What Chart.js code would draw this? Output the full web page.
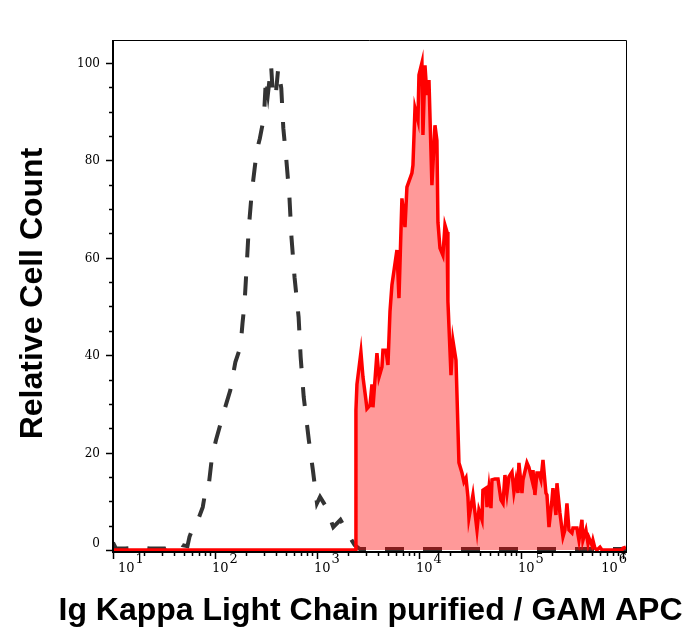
<!DOCTYPE html>
<html>
<head>
<meta charset="utf-8">
<script src="https://cdn.jsdelivr.net/npm/chart.js@4/dist/chart.umd.min.js"></script>
<style>
  body { margin: 0; background: #fff; }
  #histo { display: block; }
</style>
</head>
<body>
<canvas id="histo" width="695" height="641"></canvas>
<script>
// x positions are kept in decades (log10 of the fluorescence value)
const isotypeLog = [1.00, 1.03, 1.12, 1.26, 1.36, 1.51, 1.58, 1.63, 1.68, 1.73,
    1.75, 1.80, 1.83, 1.88, 1.90, 1.93, 1.97, 2.01, 2.05, 2.10,
    2.15, 2.20, 2.25, 2.27, 2.29, 2.31, 2.33, 2.36, 2.41, 2.44,
    2.48, 2.50, 2.52, 2.55, 2.57, 2.60, 2.62, 2.65, 2.67, 2.70,
    2.73, 2.75, 2.78, 2.82, 2.84, 2.87, 2.92, 2.96, 3.00, 3.03,
    3.08, 3.10, 3.16, 3.23, 3.27, 3.32, 3.37, 3.42, 6.03];
const isotypeCount = [1.5, 0.3, 0.3, 0.6, 0.3, 0.3, 1.0, 1.8, 1.0, 0.8,
    2.7, 5.5, 6.0, 8.8, 11.3, 11.7, 19, 22.6, 25.6, 29.3,
    32.8, 38.6, 41.7, 46.6, 50.7, 58, 65.7, 73.3, 82, 84.5,
    88.9, 97, 93.8, 99.5, 92.8, 94.4, 98.9, 94.8, 86.6, 80,
    72.4, 64.2, 56, 47.8, 39.6, 31.4, 22.6, 16.4, 9.6, 10.9,
    9.2, 8.2, 4.7, 6.2, 4.7, 2.7, 1, 0.2, 0.2];

const stainedLog = [1.000, 3.373, 3.382, 3.392, 3.431, 3.451, 3.480, 3.490, 3.520, 3.539,
    3.549, 3.588, 3.608, 3.637, 3.647, 3.676, 3.696, 3.716, 3.735, 3.784,
    3.804, 3.833, 3.863, 3.882, 3.931, 3.941, 3.961, 3.990, 4.000, 4.029,
    4.039, 4.059, 4.078, 4.098, 4.127, 4.157, 4.176, 4.186, 4.206, 4.235,
    4.255, 4.275, 4.284, 4.314, 4.333, 4.363, 4.392, 4.422, 4.441, 4.461,
    4.480, 4.490, 4.529, 4.569, 4.588, 4.618, 4.627, 4.657, 4.667, 4.686,
    4.706, 4.716, 4.745, 4.775, 4.804, 4.824, 4.843, 4.863, 4.882, 4.912,
    4.931, 4.951, 4.971, 4.980, 5.010, 5.020, 5.059, 5.078, 5.108, 5.118,
    5.137, 5.157, 5.176, 5.196, 5.216, 5.245, 5.255, 5.275, 5.304, 5.314,
    5.343, 5.353, 5.382, 5.412, 5.431, 5.451, 5.471, 5.500, 5.510, 5.549,
    5.569, 5.598, 5.608, 5.637, 5.657, 5.667, 5.696, 5.706, 5.725, 5.745,
    5.775, 5.794, 5.990, 6.000, 6.029];
const stainedCount = [0, 0, 28.7, 34, 40.6, 35.5, 30.8, 29, 29.7, 34,
    29.3, 40.4, 35.5, 37.6, 41, 41, 38, 49, 54.4, 61.6,
    51.7, 72.2, 66.3, 74.5, 77.4, 79, 90.7, 88.2, 97.5, 100,
    85.2, 99.5, 93.4, 96.5, 74.9, 87.2, 84.1, 67.3, 62, 60.5,
    66.7, 65.3, 51, 35.9, 43, 39, 17.9, 15.8, 14, 14.8,
    10.9, 6.6, 11.3, 4.1, 8.2, 6.2, 12.3, 12.7, 8.8, 12.7,
    8.6, 14.4, 14.6, 14.6, 10.3, 9.6, 15.4, 11.7, 15, 16,
    11.9, 14.4, 11.7, 17.9, 11.7, 14.4, 17.9, 17, 14.4, 16.4,
    11.3, 15.8, 15.8, 14.4, 18.5, 11.7, 11.3, 4.7, 10.3, 12.7,
    7.2, 13.7, 7.6, 2.7, 4.1, 9.6, 4.1, 3.5, 4.5, 4.5,
    2, 6.2, 2, 4.1, 1.4, 2.5, 1, 2, 0.4, 0,
    0.6, 0, 0, 0.4, 0.6];

const xDecades = [1, 2, 3, 4, 5, 6];
const yTicks = [0, 20, 40, 60, 80, 100];
const xTitle = 'Ig Kappa Light Chain purified / GAM APC';
const yTitle = 'Relative Cell Count';

function toPoints(logs, counts) {
    return logs.map((e, i) => ({ x: Math.pow(10, e), y: counts[i] }));
}

// axes, ticks, labels and titles drawn by hand so the look matches the cytometry software
const axesPlugin = {
    id: 'axesPlugin',
    afterDraw(chart) {
        const ctx = chart.ctx;
        const a = chart.chartArea;
        const xs = chart.scales.x;
        const ys = chart.scales.y;
        ctx.save();
        ctx.strokeStyle = '#000';
        ctx.fillStyle = '#000';

        // frame: heavier left/bottom, thin top/right
        ctx.lineWidth = 1;
        ctx.beginPath();
        ctx.moveTo(a.left, a.top + 0.5); ctx.lineTo(a.right + 0.5, a.top + 0.5);
        ctx.lineTo(a.right + 0.5, a.bottom);
        ctx.stroke();
        ctx.lineWidth = 2;
        ctx.beginPath();
        ctx.moveTo(a.left, a.top); ctx.lineTo(a.left, a.bottom + 1);
        ctx.lineTo(a.right + 1, a.bottom + 1);
        ctx.stroke();

        // y ticks
        ctx.lineWidth = 1.5;
        for (let v = 0; v <= 100; v += 5) {
            const y = Math.round(ys.getPixelForValue(v)) + 0.5;
            const len = v % 20 === 0 ? 7 : 4;
            ctx.beginPath();
            ctx.moveTo(a.left - len, y); ctx.lineTo(a.left, y);
            ctx.stroke();
        }
        ctx.font = '12px "DejaVu Serif"';
        ctx.textAlign = 'right';
        yTicks.forEach(v => {
            const y = ys.getPixelForValue(v);
            if (v === 0) {
                ctx.textBaseline = 'bottom';
                ctx.fillText(String(v), a.left - 13, y);
            } else {
                ctx.textBaseline = 'middle';
                ctx.fillText(String(v), a.left - 13, y + 1);
            }
        });

        // x ticks (log decades with minor ticks)
        const xmax = xs.max;
        for (let d = 1; d <= 6; d++) {
            for (let k = 1; k <= 9; k++) {
                const v = k * Math.pow(10, d);
                if (v > xmax) break;
                const x = Math.round(xs.getPixelForValue(v)) + 0.5;
                const len = k === 1 ? 7 : 4;
                ctx.beginPath();
                ctx.moveTo(x, a.bottom); ctx.lineTo(x, a.bottom + 1 + len);
                ctx.stroke();
            }
        }
        ctx.textAlign = 'left';
        ctx.textBaseline = 'alphabetic';
        xDecades.forEach(d => {
            const x = xs.getPixelForValue(Math.pow(10, d));
            ctx.font = '13px "DejaVu Serif"';
            const wBase = ctx.measureText('10').width;
            const wSup = ctx.measureText(String(d)).width;
            let left = x - 3;
            if (left < a.left + 5) left = a.left + 5;
            if (left + wBase + wSup > a.right) left = a.right - wBase - wSup;
            ctx.fillText('10', left, 572);
            ctx.fillText(String(d), left + wBase + 1, 563);
        });

        // axis titles
        ctx.font = 'bold 32px "Liberation Sans"';
        ctx.textAlign = 'center';
        ctx.textBaseline = 'alphabetic';
        ctx.fillText(xTitle, (a.left + a.right) / 2 + 1, 620);
        ctx.save();
        ctx.translate(42, (a.top + a.bottom) / 2 - 2);
        ctx.rotate(-Math.PI / 2);
        ctx.fillText(yTitle, 0, 0);
        ctx.restore();

        ctx.restore();
    }
};

const ctx = document.getElementById('histo').getContext('2d');

const histo = new Chart(ctx, {
    type: 'line',
    data: {
        datasets: [{
            label: 'Stained',
            data: toPoints(stainedLog, stainedCount),
            borderColor: '#ff0000',
            borderWidth: 3.5,
            backgroundColor: 'rgba(255, 0, 0, 0.4)',
            fill: 'origin',
            pointRadius: 0,
            tension: 0,
            order: 0
        }, {
            label: 'Isotype',
            data: toPoints(isotypeLog, isotypeCount),
            borderColor: '#333333',
            borderWidth: 4,
            borderDash: [19, 19],
            fill: false,
            pointRadius: 0,
            tension: 0,
            order: 1
        }]
    },
    options: {
        responsive: false,
        animation: false,
        layout: {
            padding: { left: 113, right: 69, top: 40, bottom: 90 }
        },
        plugins: {
            legend: { display: false },
            tooltip: { enabled: false }
        },
        scales: {
            x: {
                type: 'logarithmic',
                display: false,
                min: 10,
                max: Math.pow(10, 6.03)
            },
            y: {
                type: 'linear',
                display: false,
                min: -0.2,
                max: 104.7
            }
        }
    },
    plugins: [axesPlugin]
});
</script>
</body>
</html>
